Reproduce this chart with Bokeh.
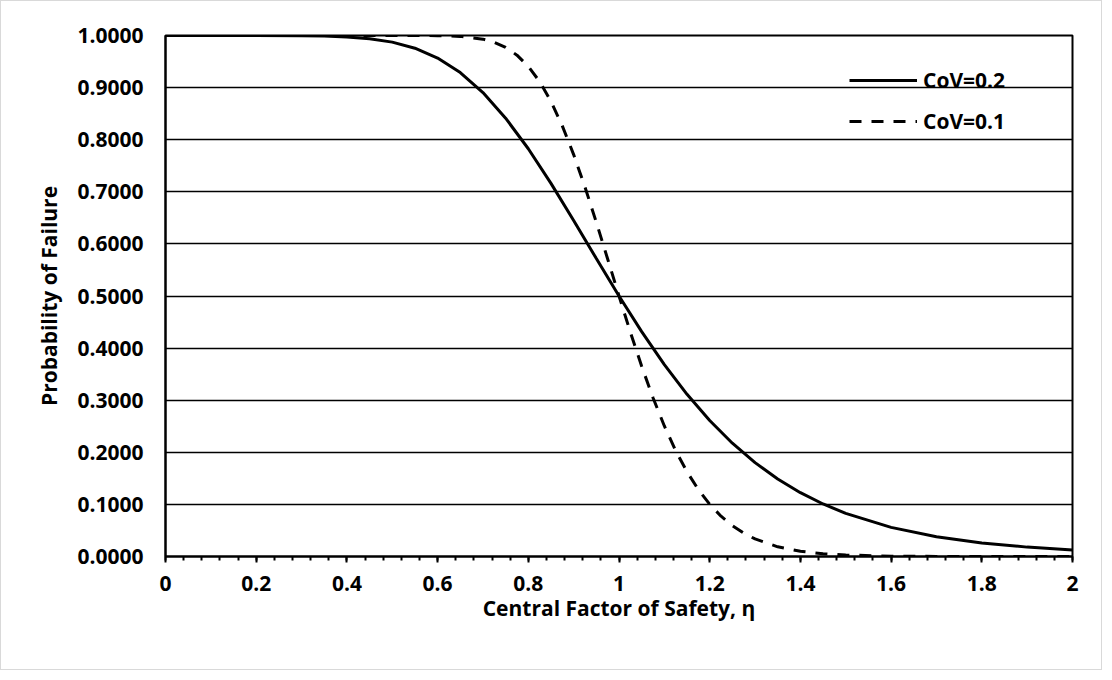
from bokeh.plotting import figure
from bokeh.models import Range1d, FixedTicker, Legend, LegendItem
from bokeh.embed import file_html
from bokeh.resources import INLINE

# ---- data ----
eta_cov02 = [0.0, 0.1, 0.2, 0.3, 0.35, 0.4, 0.45, 0.5, 0.55, 0.6, 0.65, 0.7, 0.75, 0.8,
             0.85, 0.9, 0.95, 1.0, 1.05, 1.1, 1.15, 1.2, 1.25, 1.3, 1.35, 1.4, 1.45, 1.5,
             1.6, 1.7, 1.8, 1.9, 2.0]
pf_cov02 = [1.0, 1.0, 1.0, 0.9996, 0.9989, 0.9973, 0.9939, 0.9873, 0.9756, 0.9568, 0.9288,
            0.8905, 0.8413, 0.7826, 0.7162, 0.6449, 0.5719, 0.5, 0.4316, 0.3683, 0.3113,
            0.2610, 0.2174, 0.1802, 0.1488, 0.1225, 0.1008, 0.0828, 0.0559, 0.0380, 0.0260,
            0.0180, 0.0127]

eta_cov01 = [0.0, 0.2, 0.4, 0.5, 0.55, 0.6, 0.65, 0.7, 0.725, 0.75, 0.775, 0.8, 0.825, 0.85,
             0.875, 0.9, 0.925, 0.95, 0.975, 1.0, 1.025, 1.05, 1.075, 1.1, 1.125, 1.15, 1.175,
             1.2, 1.225, 1.25, 1.275, 1.3, 1.35, 1.4, 1.45, 1.5, 1.6, 1.7, 1.8, 1.9, 2.0]
pf_cov01 = [1.0, 1.0, 1.0, 1.0, 1.0, 0.9997, 0.9983, 0.9930, 0.9870, 0.9772, 0.9623, 0.9408,
            0.9115, 0.8735, 0.8266, 0.7714, 0.7091, 0.6415, 0.5710, 0.5, 0.4307, 0.3651,
            0.3048, 0.2505, 0.2031, 0.1625, 0.1284, 0.1002, 0.0774, 0.0592, 0.0448, 0.0337,
            0.0186, 0.0100, 0.0053, 0.0028, 0.0007, 0.0002, 0.0001, 0.0, 0.0]

series_labels = ["CoV=0.2", "CoV=0.1"]

x_ticks = [0.0, 0.2, 0.4, 0.6, 0.8, 1.0, 1.2, 1.4, 1.6, 1.8, 2.0]
x_tick_labels = ["0", "0.2", "0.4", "0.6", "0.8", "1", "1.2", "1.4", "1.6", "1.8", "2"]
x_minor_ticks = [round(i * 0.04, 2) for i in range(51)]
y_ticks = [0.0, 0.1, 0.2, 0.3, 0.4, 0.5, 0.6, 0.7, 0.8, 0.9, 1.0]
y_tick_labels = ["0.0000", "0.1000", "0.2000", "0.3000", "0.4000", "0.5000",
                 "0.6000", "0.7000", "0.8000", "0.9000", "1.0000"]

x_title = "Central Factor of Safety, η"
y_title = "Probability of Failure"

FONT = "Open Sans"

p = figure(width=1102, height=670, output_backend="svg", toolbar_location=None,
           x_range=Range1d(0, 2), y_range=Range1d(0, 1),
           min_border_left=164, min_border_right=31, min_border_top=34, min_border_bottom=115)
p.styles = {"border": "1px solid #d9d9d9"}
p.background_fill_color = "white"
p.border_fill_color = "white"
p.outline_line_color = "black"
p.outline_line_width = 2

# axes
p.xaxis.ticker = FixedTicker(ticks=x_ticks, minor_ticks=x_minor_ticks)
p.xaxis.major_label_overrides = {t: l for t, l in zip(x_ticks, x_tick_labels)}
p.yaxis.ticker = FixedTicker(ticks=y_ticks)
p.yaxis.major_label_overrides = {t: l for t, l in zip(y_ticks, y_tick_labels)}

for ax in (p.xaxis, p.yaxis):
    ax.axis_line_color = "black"
    ax.axis_line_width = 2
    ax.major_label_text_font = FONT
    ax.major_label_text_font_style = "bold"
    ax.major_label_text_font_size = "21px"
    ax.major_label_text_color = "black"
    ax.axis_label_text_font = FONT
    ax.axis_label_text_font_style = "bold"
    ax.axis_label_text_font_size = "21px"
    ax.axis_label_text_color = "black"

p.xaxis.axis_label = x_title
p.xaxis.major_tick_out = 6
p.xaxis.major_tick_in = 0
p.xaxis.minor_tick_out = 4
p.xaxis.minor_tick_in = 0
p.xaxis.major_tick_line_color = "black"
p.xaxis.major_tick_line_width = 2
p.xaxis.minor_tick_line_color = "black"
p.xaxis.minor_tick_line_width = 2
p.xaxis.major_label_standoff = 13
p.xaxis.axis_label_standoff = 0

p.yaxis.axis_label = y_title
p.yaxis.major_tick_out = 0
p.yaxis.major_tick_in = 0
p.yaxis.minor_tick_line_color = None
p.yaxis.major_label_standoff = 22
p.yaxis.axis_label_standoff = 11

p.xgrid.grid_line_color = None
p.ygrid.grid_line_color = "black"
p.ygrid.grid_line_width = 1.5

r1 = p.line(eta_cov02, pf_cov02, line_color="black", line_width=3)
r2 = p.line(eta_cov01, pf_cov01, line_color="black", line_width=3, line_dash="12 10")

legend = Legend(items=[LegendItem(label=series_labels[0], renderers=[r1]),
                       LegendItem(label=series_labels[1], renderers=[r2])],
                location=(684, 421), orientation="vertical",
                glyph_width=68, glyph_height=20, label_height=20, spacing=13,
                label_standoff=6, padding=0, margin=0,
                border_line_alpha=0, background_fill_alpha=0,
                label_text_font=FONT, label_text_font_style="bold",
                label_text_font_size="21px", label_text_color="black")
p.add_layout(legend, "center")

open("out.html", "w").write(file_html(p, INLINE))
